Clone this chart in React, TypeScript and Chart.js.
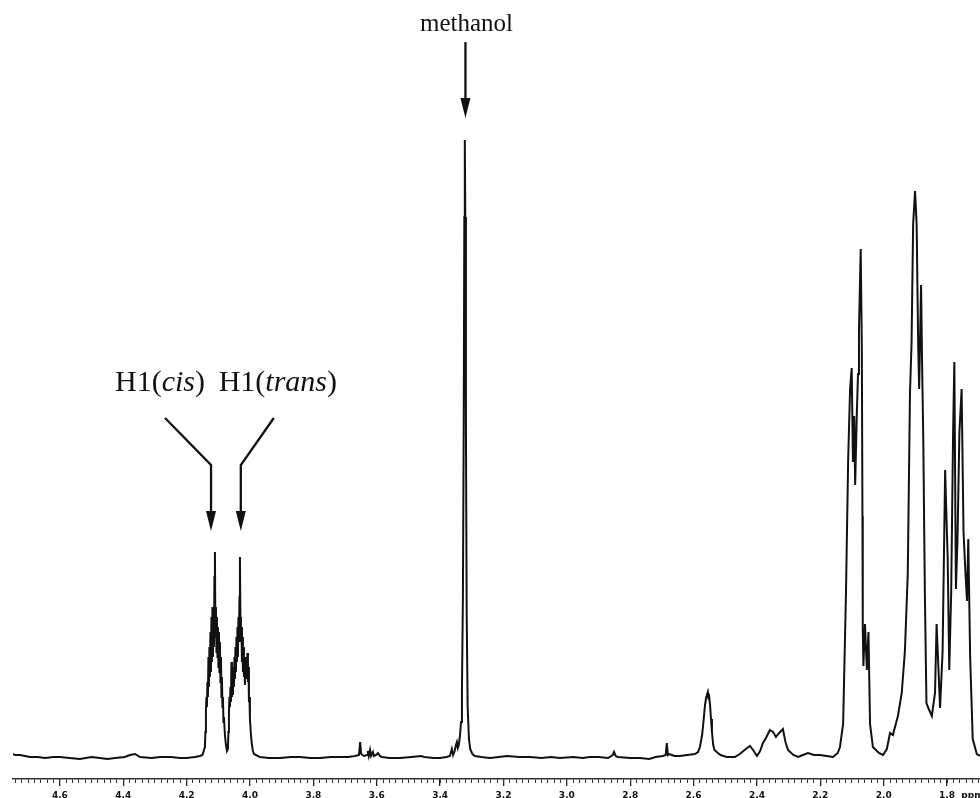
import React, { useEffect, useRef } from 'react';
import { Chart, registerables } from 'chart.js';

Chart.register(...registerables);

// ---- axis range (ppm, reversed: high field on the right) ----
const PPM_LEFT = 4.748;
const PPM_RIGHT = 1.696;

// ---- tick labels ----
const TICK_VALUES = [4.6, 4.4, 4.2, 4.0, 3.8, 3.6, 3.4, 3.2, 3.0, 2.8, 2.6, 2.4, 2.2, 2.0, 1.8, 1.72];
const TICK_LABELS = ['4.6', '4.4', '4.2', '4.0', '3.8', '3.6', '3.4', '3.2', '3.0', '2.8', '2.6', '2.4', '2.2', '2.0', '1.8', 'ppm'];
const MINOR_STEP = 0.02;

// ---- annotations: the shift each arrow points at ----
const METHANOL_PPM = 3.320;
const CIS_PPM = 4.123;
const TRANS_PPM = 4.029;

// ---- spectrum: [ppm, intensity] ----
const BASELINE_LEFT: [number, number][] = [
  [4.752, 3], [4.740, 2], [4.726, 2], [4.710, 1], [4.695, 0], [4.670, 0], [4.647, -1], [4.620, 0],
  [4.600, 0], [4.570, -1], [4.537, -2], [4.500, 0], [4.474, -1], [4.450, -2], [4.426, -1], [4.395, 0],
  [4.379, 2], [4.363, 3], [4.347, 0], [4.310, -1], [4.284, 0], [4.250, 0], [4.221, -1], [4.200, -1],
  [4.174, 0], [4.158, 1], [4.150, 2],
];

const H1_CIS: [number, number][] = [
  [4.1423, 10], [4.1407, 25], [4.1391, 45], [4.1375, 60], [4.1360, 50], [4.1344, 75], [4.1328, 60],
  [4.1312, 100], [4.1296, 70], [4.1281, 110], [4.1265, 80], [4.1249, 125], [4.1233, 85], [4.1217, 140],
  [4.1202, 95], [4.1186, 150], [4.1170, 100], [4.1154, 145], [4.1138, 110], [4.1123, 180], [4.1107, 205],
  [4.1091, 120], [4.1075, 150], [4.1059, 105], [4.1044, 140], [4.1028, 100], [4.1012, 130], [4.0996, 90],
  [4.0980, 125], [4.0965, 85], [4.0949, 115], [4.0933, 75], [4.0917, 100], [4.0901, 60], [4.0886, 80],
  [4.0870, 50], [4.0854, 60], [4.0838, 35], [4.0822, 40], [4.0791, 22], [4.0759, 12], [4.0728, 6],
];

const H1_TRANS: [number, number][] = [
  [4.0697, 8], [4.0681, 25], [4.0665, 44], [4.0649, 60], [4.0633, 50], [4.0618, 70], [4.0602, 55],
  [4.0586, 95], [4.0570, 60], [4.0554, 80], [4.0539, 62], [4.0523, 90], [4.0507, 70], [4.0491, 100],
  [4.0475, 78], [4.0460, 110], [4.0444, 85], [4.0428, 120], [4.0412, 95], [4.0396, 130], [4.0381, 100],
  [4.0365, 140], [4.0349, 115], [4.0333, 160], [4.0318, 200], [4.0302, 140], [4.0286, 115], [4.0270, 130],
  [4.0254, 95], [4.0239, 120], [4.0223, 85], [4.0207, 110], [4.0191, 80], [4.0175, 100], [4.0160, 72],
  [4.0144, 95], [4.0128, 78], [4.0112, 100], [4.0096, 85], [4.0081, 104], [4.0065, 75], [4.0049, 90],
  [4.0033, 55], [4.0017, 60], [4.0002, 38], [3.9970, 22], [3.9938, 12], [3.9907, 6], [3.9875, 3],
];

const BASELINE_MID: [number, number][] = [
  [3.969, 0], [3.940, -1], [3.906, -1], [3.870, 0], [3.842, 0], [3.810, -1], [3.779, -1], [3.745, 0],
  [3.716, 0], [3.690, 0], [3.669, 1], [3.656, 2], [3.6525, 15], [3.649, 3], [3.640, 1], [3.630, 2],
  [3.628, 6], [3.625, 1], [3.621, 7], [3.618, 1], [3.612, 5], [3.609, 1], [3.602, 2], [3.596, 4],
  [3.590, 1], [3.584, 0], [3.560, -1], [3.527, -1], [3.490, 0], [3.460, 1], [3.450, 0], [3.420, -1],
  [3.400, -1], [3.380, 0], [3.369, 1],
];

const METHANOL: [number, number][] = [
  [3.363, 8], [3.359, 2], [3.354, 6], [3.350, 12], [3.347, 15], [3.344, 9], [3.341, 12], [3.337, 22],
  [3.334, 35], [3.331, 70], [3.328, 160], [3.3255, 330], [3.3235, 540], [3.322, 617], [3.3205, 540],
  [3.3185, 330], [3.316, 140], [3.313, 50], [3.309, 18], [3.305, 8], [3.298, 3], [3.290, 1],
];

const BASELINE_RIGHT: [number, number][] = [
  [3.270, 0], [3.243, -1], [3.215, 0], [3.189, 1], [3.150, 0], [3.116, 0], [3.080, -1], [3.050, 0],
  [3.022, -1], [2.980, 0], [2.950, -1], [2.927, 0], [2.900, 0], [2.870, -1], [2.855, 2], [2.851, 5],
  [2.846, 1], [2.839, 0], [2.800, -1], [2.769, -1], [2.740, -2], [2.720, 0], [2.697, 1], [2.688, 2],
  [2.6845, 14], [2.681, 2], [2.678, 3], [2.660, 1], [2.643, 1], [2.620, 2], [2.596, 3],
];

const PEAK_25: [number, number][] = [
  [2.586, 5], [2.580, 10], [2.573, 22], [2.568, 38], [2.564, 52], [2.560, 60], [2.558, 62], [2.555, 65],
  [2.553, 60], [2.551, 61], [2.548, 52], [2.545, 38], [2.542, 25], [2.538, 12], [2.534, 7], [2.527, 5],
  [2.515, 2], [2.495, 0],
];

const BUMPS_23: [number, number][] = [
  [2.470, 0], [2.454, 3], [2.435, 8], [2.422, 11], [2.410, 6], [2.400, 1], [2.390, 6], [2.381, 14],
  [2.370, 20], [2.359, 27], [2.354, 26], [2.349, 25], [2.340, 20], [2.333, 23], [2.318, 28],
  [2.310, 15], [2.302, 7], [2.285, 2], [2.270, 0], [2.255, 2], [2.239, 4], [2.220, 2], [2.201, 2],
  [2.180, 1], [2.160, 0], [2.145, 4],
];

const CLUSTER_20: [number, number][] = [
  [2.138, 10], [2.128, 33], [2.119, 164], [2.112, 299], [2.106, 368], [2.101, 389], [2.097, 295],
  [2.093, 341], [2.090, 272], [2.085, 341], [2.081, 383], [2.078, 426], [2.0725, 508], [2.069, 410],
  [2.067, 241], [2.066, 129], [2.064, 91], [2.059, 133], [2.053, 87], [2.048, 125], [2.046, 87],
  [2.043, 33], [2.034, 10], [2.015, 4], [2.002, 2],
];

const CLUSTER_19: [number, number][] = [
  [1.990, 8], [1.980, 24], [1.971, 22], [1.955, 41], [1.943, 64], [1.933, 106], [1.924, 183],
  [1.917, 364], [1.912, 414], [1.907, 533], [1.901, 566], [1.896, 533], [1.891, 410], [1.888, 368],
  [1.882, 472], [1.879, 399], [1.875, 317], [1.870, 164], [1.865, 54], [1.859, 49], [1.848, 41],
];

const CLUSTER_18: [number, number][] = [
  [1.838, 64], [1.833, 133], [1.828, 95], [1.822, 49], [1.814, 106], [1.806, 287], [1.803, 252],
  [1.798, 199], [1.793, 87], [1.787, 164], [1.781, 322], [1.777, 395], [1.772, 168], [1.767, 218],
  [1.761, 325], [1.754, 368], [1.748, 225], [1.743, 191], [1.737, 156], [1.733, 218], [1.727, 99],
  [1.719, 18], [1.706, 3], [1.696, 1],
];

const SPECTRUM = [
  ...BASELINE_LEFT, ...H1_CIS, ...H1_TRANS, ...BASELINE_MID, ...METHANOL, ...BASELINE_RIGHT,
  ...PEAK_25, ...BUMPS_23, ...CLUSTER_20, ...CLUSTER_19, ...CLUSTER_18,
].sort((a, b) => b[0] - a[0]);

type Seg = { t: string; italic?: boolean };

function drawLabel(ctx: CanvasRenderingContext2D, segs: Seg[], cx: number, baseline: number, size: number) {
  const fam = '"Liberation Serif", "Times New Roman", serif';
  const fontFor = (s: Seg) => `${s.italic ? 'italic ' : ''}${size}px ${fam}`;
  let total = 0;
  const widths = segs.map((s) => {
    ctx.font = fontFor(s);
    const w = ctx.measureText(s.t).width;
    total += w;
    return w;
  });
  let x = cx - total / 2;
  ctx.textAlign = 'left';
  ctx.textBaseline = 'alphabetic';
  segs.forEach((s, i) => {
    ctx.font = fontFor(s);
    ctx.fillText(s.t, x, baseline);
    x += widths[i];
  });
}

function drawArrow(ctx: CanvasRenderingContext2D, pts: [number, number][]) {
  const headLen = 20;
  const headHalf = 5;
  const [tx, ty] = pts[pts.length - 1];
  const [px, py] = pts[pts.length - 2];
  const ang = Math.atan2(ty - py, tx - px);
  const bx = tx - headLen * Math.cos(ang);
  const by = ty - headLen * Math.sin(ang);
  ctx.beginPath();
  ctx.moveTo(pts[0][0], pts[0][1]);
  for (let i = 1; i < pts.length - 1; i++) ctx.lineTo(pts[i][0], pts[i][1]);
  ctx.lineTo(bx, by);
  ctx.stroke();
  ctx.beginPath();
  ctx.moveTo(tx, ty);
  ctx.lineTo(bx + headHalf * Math.sin(ang), by - headHalf * Math.cos(ang));
  ctx.lineTo(bx - headHalf * Math.sin(ang), by + headHalf * Math.cos(ang));
  ctx.closePath();
  ctx.fill();
}

const annotationPlugin = {
  id: 'nmrAnnotations',
  afterDraw(chart: any) {
    const ctx: CanvasRenderingContext2D = chart.ctx;
    const xs = chart.scales.x;
    ctx.save();
    ctx.fillStyle = '#111';
    ctx.strokeStyle = '#111';
    ctx.lineWidth = 2.3;
    ctx.lineJoin = 'miter';

    const mx = xs.getPixelForValue(METHANOL_PPM);
    drawLabel(ctx, [{ t: 'methanol' }], mx + 1, 31, 25);
    drawArrow(ctx, [[mx, 42], [mx, 118]]);

    const cx = xs.getPixelForValue(CIS_PPM);
    drawLabel(ctx, [{ t: 'H1(' }, { t: 'cis', italic: true }, { t: ')' }], cx - 51, 391, 30);
    drawArrow(ctx, [[cx - 46, 418], [cx, 465], [cx, 531]]);

    const tx = xs.getPixelForValue(TRANS_PPM);
    drawLabel(ctx, [{ t: 'H1(' }, { t: 'trans', italic: true }, { t: ')' }], tx + 37, 391, 30);
    drawArrow(ctx, [[tx + 33, 418], [tx, 465], [tx, 531]]);

    ctx.restore();
  },
};

export default function App() {
  const ref = useRef<HTMLCanvasElement>(null);

  useEffect(() => {
    const canvas = ref.current;
    if (!canvas) return;
    const chart = new Chart(canvas, {
      type: 'line',
      data: {
        datasets: [
          {
            data: SPECTRUM.map(([x, y]) => ({ x, y })),
            borderColor: '#111',
            borderWidth: 2,
            pointRadius: 0,
            tension: 0,
            fill: false,
          },
        ],
      },
      options: {
        animation: false,
        responsive: false,
        layout: { padding: { left: 13, right: 0, top: 0, bottom: 0 } },
        plugins: { legend: { display: false }, tooltip: { enabled: false } },
        scales: {
          x: {
            type: 'linear',
            position: 'bottom',
            reverse: true,
            min: PPM_RIGHT,
            max: PPM_LEFT,
            weight: 1,
            border: { display: false },
            grid: {
              drawOnChartArea: false,
              drawTicks: true,
              tickLength: 7,
              lineWidth: 1.3,
              tickColor: (c: any) => (c.tick && c.tick.label === 'ppm' ? 'rgba(0,0,0,0)' : '#222'),
            },
            ticks: {
              autoSkip: false,
              maxRotation: 0,
              minRotation: 0,
              padding: 4,
              color: '#111',
              font: { family: '"DejaVu Sans", sans-serif', size: 9, weight: 'bold' },
              callback: (_v: any, i: number) => TICK_LABELS[i],
            },
            afterBuildTicks: (scale: any) => {
              scale.ticks = TICK_VALUES.map((v) => ({ value: v }));
            },
            afterFit: (scale: any) => {
              scale.height = 26;
              scale.paddingLeft = 0;
              scale.paddingRight = 0;
            },
          },
          xMinor: {
            type: 'linear',
            axis: 'x',
            position: 'bottom',
            reverse: true,
            min: PPM_RIGHT,
            max: PPM_LEFT,
            weight: 0,
            border: { display: true, color: '#333', width: 1.4 },
            grid: {
              drawOnChartArea: false,
              drawTicks: true,
              tickLength: 4,
              lineWidth: 1,
              tickColor: '#333',
            },
            ticks: {
              display: false,
              autoSkip: false,
              stepSize: MINOR_STEP,
              includeBounds: false,
            },
            afterFit: (scale: any) => {
              scale.height = 0;
              scale.paddingLeft = 0;
              scale.paddingRight = 0;
            },
          },
          y: {
            type: 'linear',
            display: false,
            min: -22,
            max: 757,
          },
        },
      } as any,
      plugins: [annotationPlugin],
    });
    return () => chart.destroy();
  }, []);

  return (
    <div
      style={{
        position: 'fixed',
        left: 0,
        top: 0,
        width: 980,
        height: 798,
        overflow: 'hidden',
        background: '#fff',
      }}
    >
      <canvas ref={ref} width={980} height={805} style={{ display: 'block', width: 980, height: 805 }} />
    </div>
  );
}
